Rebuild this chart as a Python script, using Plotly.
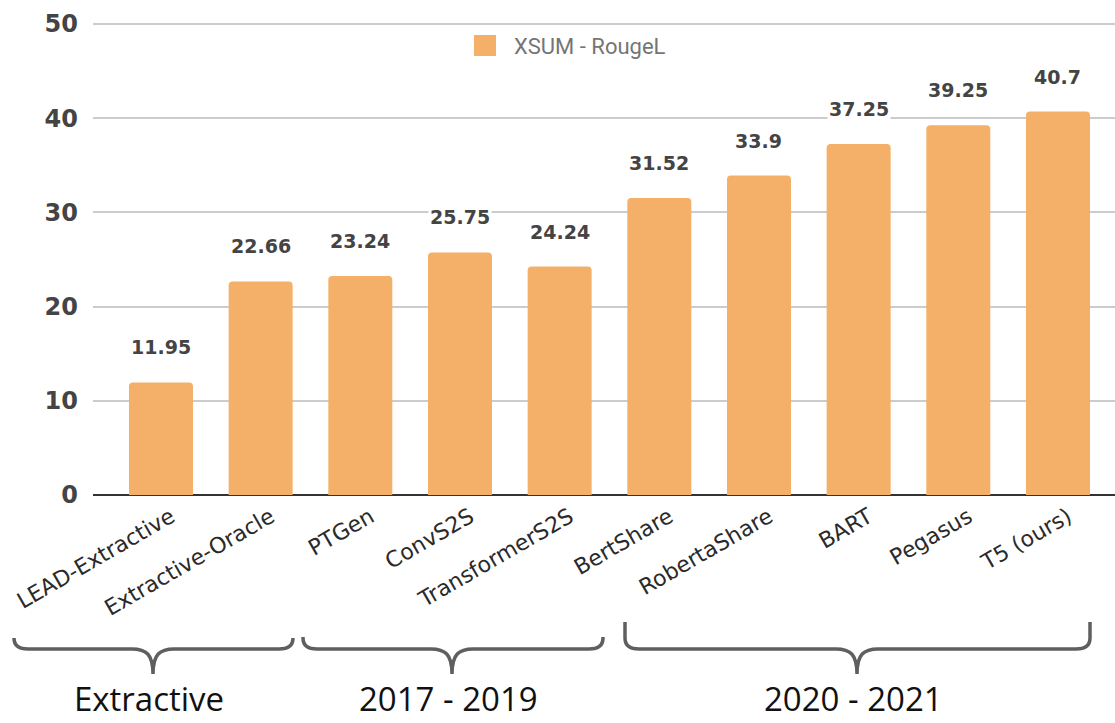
import plotly.graph_objects as go

# ---------------- data ----------------
categories = ["LEAD-Extractive", "Extractive-Oracle", "PTGen", "ConvS2S", "TransformerS2S",
              "BertShare", "RobertaShare", "BART", "Pegasus", "T5 (ours)"]
rouge_l = [11.95, 22.66, 23.24, 25.75, 24.24, 31.52, 33.9, 37.25, 39.25, 40.7]
value_labels = ["11.95", "22.66", "23.24", "25.75", "24.24", "31.52", "33.9", "37.25", "39.25", "40.7"]
series_name = "XSUM - RougeL"
y_ticks = [0, 10, 20, 30, 40, 50]
group_names = ["Extractive", "2017 - 2019", "2020 - 2021"]

# ---------------- layout constants ----------------
W, H = 1115, 723
ML, MR, MT, MB = 93, 0, 22, 228
PW, PH = W - ML - MR, H - MT - MB
BAR_COLOR = "#F4AF68"

def px(x):  # pixel x -> paper x
    return (x - ML) / PW

def py(y):  # pixel y -> paper y
    return (H - MB - y) / PH

fig = go.Figure()
fig.add_trace(go.Bar(
    x=categories, y=rouge_l, name=series_name,
    marker=dict(color=BAR_COLOR, cornerradius=4, line=dict(width=0)),
    width=0.642, showlegend=False, hoverinfo="x+y",
))

# value labels above bars
for c, v, t in zip(categories, rouge_l, value_labels):
    fig.add_annotation(x=c, y=v, text=t, showarrow=False, xref="x", yref="y",
                       yanchor="middle", yshift=35, bgcolor="white", borderpad=1,
                       font=dict(family="DejaVu Sans", size=19, color="#444444", weight="bold"))

# manual legend
fig.add_shape(type="rect", xref="paper", yref="paper",
              x0=px(474), x1=px(496), y0=py(35), y1=py(56),
              fillcolor=BAR_COLOR, line=dict(width=0), layer="above")
fig.add_annotation(x=px(512), y=py(46), xref="paper", yref="paper", text=series_name,
                   showarrow=False, xanchor="left", yanchor="middle",
                   font=dict(family="Roboto", size=22, color="#757575"))

# braces and group labels
H_Y, TIP_Y = 649, 674
braces = [(14, 293, 153, 638), (303, 603, 452, 637), (625, 1090, 857, 622)]
for (xl, xr, xc, top), name in zip(braces, group_names):
    pts = [
        f"M {px(xl)},{py(top)}",
        f"L {px(xl)},{py(H_Y - 11)}",
        f"Q {px(xl)},{py(H_Y)} {px(xl + 14)},{py(H_Y)}",
        f"L {px(xc - 24)},{py(H_Y)}",
        f"C {px(xc - 6)},{py(H_Y - 1)} {px(xc)},{py(H_Y + 6)} {px(xc)},{py(TIP_Y)}",
        f"C {px(xc)},{py(H_Y + 6)} {px(xc + 6)},{py(H_Y - 1)} {px(xc + 24)},{py(H_Y)}",
        f"L {px(xr - 14)},{py(H_Y)}",
        f"Q {px(xr)},{py(H_Y)} {px(xr)},{py(H_Y - 11)}",
        f"L {px(xr)},{py(top)}",
    ]
    fig.add_shape(type="path", xref="paper", yref="paper", path=" ".join(pts),
                  line=dict(color="#5F5F5F", width=3.5))
    fig.add_annotation(x=px(xc - 4), y=py(722), xref="paper", yref="paper", text=name,
                       showarrow=False, xanchor="center", yanchor="bottom", borderpad=0,
                       font=dict(family="Open Sans", size=33, color="#111111"))

fig.update_layout(
    width=W, height=H,
    margin=dict(l=ML, r=MR, t=MT, b=MB, pad=0, autoexpand=False),
    paper_bgcolor="white", plot_bgcolor="white",
    showlegend=False,
)
fig.update_xaxes(
    type="category", range=[-0.682, 9.572], tickangle=-30,
    tickfont=dict(family="DejaVu Sans", size=22, color="#2A2A2A"),
    showgrid=False, showline=False, ticks="", zeroline=False, automargin=False,
    ticklabelshift=10, ticklabelstandoff=4,
)
fig.update_yaxes(
    range=[0, 50.2], tickvals=y_ticks, ticktext=[str(t) for t in y_ticks],
    tickfont=dict(family="DejaVu Sans", size=24, color="#444444", weight="bold"),
    showgrid=True, gridcolor="#CCCCCC", gridwidth=2,
    zeroline=True, zerolinecolor="#333333", zerolinewidth=2,
    showline=False, ticks="", ticklabelstandoff=14, automargin=False,
)

fig.write_html("out.html", config={"displayModeBar": False},
               post_script="document.body.style.margin='0';document.body.style.overflow='hidden';")
